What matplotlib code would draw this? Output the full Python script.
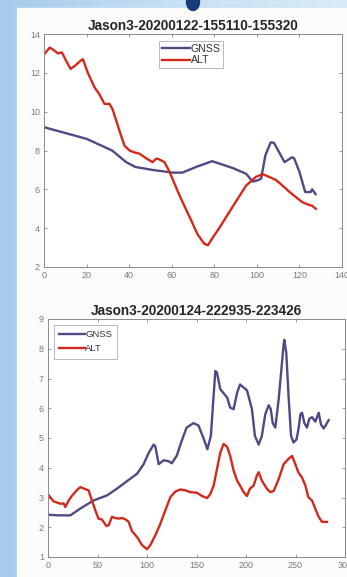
import numpy as np
import matplotlib
matplotlib.use("Agg")
import matplotlib.pyplot as plt
from matplotlib.patches import Rectangle, Ellipse

plt.rcParams['font.family'] = ['Liberation Sans', 'DejaVu Sans']

# ---- Pass 1: Jason3-20200122-155110-155320 ----
title1 = "Jason3-20200122-155110-155320"
gnss1_x = [0, 20, 32, 38.6, 43, 51, 60.5, 65, 71.4, 79, 88.6, 95, 98, 100, 102, 104,
           106.5, 108, 112, 113, 116.5, 117.5, 120, 122.7, 125.3, 126, 127.6]
gnss1_y = [9.2, 8.6, 8.0, 7.4, 7.15, 7.0, 6.86, 6.86, 7.15, 7.45, 7.1, 6.8, 6.4, 6.45,
           6.55, 7.75, 8.42, 8.4, 7.6, 7.4, 7.65, 7.6, 6.9, 5.86, 5.86, 6.0, 5.75]
alt1_x = [0, 2.7, 4.2, 6.6, 8.4, 10.5, 12.5, 14.4, 17.5, 18.3, 20.6, 23.75, 26, 28.4,
          30.8, 32.3, 35.5, 37.8, 40.2, 42.5, 44.8, 48, 51, 52.7, 54, 56.6, 59, 63.6,
          68.3, 72.2, 75.3, 77, 79.2, 82.3, 88.6, 95, 99.5, 102.7, 105.8, 109, 112,
          115, 118.3, 121.4, 123.75, 126, 127.7]
alt1_y = [12.95, 13.3, 13.2, 13.0, 13.05, 12.6, 12.2, 12.35, 12.65, 12.7, 12.0, 11.25,
          10.9, 10.4, 10.4, 10.1, 9.0, 8.25, 8.0, 7.9, 7.84, 7.6, 7.4, 7.58, 7.55, 7.4,
          6.9, 5.7, 4.6, 3.67, 3.2, 3.12, 3.5, 4.0, 5.1, 6.2, 6.64, 6.78, 6.64, 6.48,
          6.2, 5.9, 5.6, 5.34, 5.23, 5.15, 5.0]

# ---- Pass 2: Jason3-20200124-222935-223426 ----
title2 = "Jason3-20200124-222935-223426"
gnss2_x = [0, 10.8, 22.6, 32.7, 46, 59.6, 69.7, 79.8, 90, 96.6, 101.7, 106.7, 108.4,
           111.8, 116.8, 121.9, 125, 130, 135, 140, 147, 152, 157, 161, 164.5, 169,
           170.7, 174, 181, 184, 187.5, 191, 194, 201, 206, 209, 212.8, 216, 219.5,
           222.9, 225, 227, 229.6, 233, 236, 238, 238.7, 240.7, 243, 245.5, 248, 251,
           253, 255, 256.6, 259, 261.6, 264, 266.7, 270, 273.4, 275.8, 278.5, 280, 283.5]
gnss2_y = [2.42, 2.4, 2.4, 2.63, 2.9, 3.07, 3.3, 3.55, 3.8, 4.12, 4.5, 4.78, 4.72, 4.12,
           4.25, 4.22, 4.15, 4.4, 4.9, 5.35, 5.5, 5.42, 5.0, 4.62, 5.07, 7.25, 7.2, 6.64,
           6.36, 6.02, 5.97, 6.52, 6.8, 6.6, 5.97, 5.07, 4.78, 5.07, 5.8, 6.1, 5.97,
           5.5, 5.35, 6.3, 7.4, 8.14, 8.3, 7.86, 6.4, 5.07, 4.85, 4.95, 5.3, 5.8, 5.85,
           5.5, 5.35, 5.65, 5.7, 5.55, 5.85, 5.45, 5.32, 5.4, 5.6]
alt2_x = [0, 5.7, 12.5, 15.8, 17.5, 20.9, 24, 29, 32.7, 37.7, 41, 44.4, 47.8, 51, 54.5,
          59, 61.3, 64.6, 68, 71.4, 74.7, 78, 81.5, 84.8, 90, 95, 100, 103.4, 108.4,
          113.5, 118.5, 123.6, 128.6, 133.7, 138.7, 143.8, 150.5, 155.6, 160.6, 164,
          167.3, 170.7, 174, 177.4, 181, 184, 187.5, 191, 194, 197.6, 201, 204, 207.7,
          211, 212.8, 216, 221, 224.6, 228, 233, 238, 243, 246.5, 249.8, 253, 256.6,
          260, 263, 266.7, 270, 273.4, 276.8, 281.8]
alt2_y = [3.1, 2.87, 2.79, 2.8, 2.68, 2.9, 3.05, 3.24, 3.35, 3.28, 3.24, 2.9, 2.57, 2.29,
          2.26, 2.04, 2.07, 2.35, 2.31, 2.29, 2.31, 2.27, 2.18, 1.87, 1.67, 1.4, 1.26,
          1.4, 1.73, 2.12, 2.57, 3.01, 3.2, 3.27, 3.24, 3.18, 3.16, 3.05, 2.98, 3.12,
          3.4, 3.96, 4.5, 4.8, 4.7, 4.4, 3.9, 3.57, 3.4, 3.18, 3.05, 3.3, 3.4, 3.74,
          3.85, 3.57, 3.3, 3.18, 3.22, 3.62, 4.12, 4.3, 4.4, 4.12, 3.84, 3.67, 3.4,
          3.01, 2.9, 2.62, 2.35, 2.18, 2.18]

GNSS_COLOR = "#4d4a86"
ALT_COLOR = "#d3291d"
W, H = 347, 577

fig = plt.figure(figsize=(W / 100, H / 100), dpi=100)

# slide backdrop: soft blue gradient with a white content panel
bg = fig.add_axes([0, 0, 1, 1])
grad = np.linspace(0, 1, 256)[None, :]
bg.imshow(grad, extent=[0, W, 0, H], aspect="auto",
          cmap=matplotlib.colors.LinearSegmentedColormap.from_list(
              "sl", ["#a6cbeb", "#c6e0f4", "#d6ebf8"]))
bg.add_patch(Rectangle((17.5, 0), W - 17.5, H - 8, color="#fbfbf9", zorder=2))
bg.add_patch(Ellipse((193, H - 2), 13, 17, color="#173a78", zorder=3))
bg.set_xlim(0, W)
bg.set_ylim(0, H)
bg.axis("off")


def px_axes(left, top, right, bottom):
    return fig.add_axes([left / W, 1 - bottom / H, (right - left) / W, (bottom - top) / H])


def style(ax, title, xlim, ylim, xticks, yticks, legend_loc, bbox, leg_fs, leg_sp, leg_pad):
    ax.set_facecolor("#ffffff")
    ax.set_xlim(*xlim)
    ax.set_ylim(*ylim)
    ax.set_xticks(xticks)
    ax.set_yticks(yticks)
    ax.tick_params(direction="in", length=2.5, width=0.6, colors="#8a8a8a",
                   labelsize=6.5, labelcolor="#7a7a7a", top=True, right=True, pad=3)
    for s in ax.spines.values():
        s.set_color("#8a8a8a")
        s.set_linewidth(0.7)
    ax.set_title(title, fontsize=9.8, fontweight="bold", color="#262626", pad=3)
    leg = ax.legend(loc=legend_loc, bbox_to_anchor=bbox, fontsize=leg_fs, frameon=True,
                    fancybox=False, edgecolor="#9a9a9a", handlelength=2.7,
                    handletextpad=0.05, borderpad=leg_pad, labelspacing=leg_sp,
                    borderaxespad=0)
    leg.get_frame().set_linewidth(0.6)
    for t in leg.get_texts():
        t.set_color("#333333")


ax1 = px_axes(44, 34, 342, 267)
ax1.plot(gnss1_x, gnss1_y, color=GNSS_COLOR, lw=1.7, label="GNSS")
ax1.plot(alt1_x, alt1_y, color=ALT_COLOR, lw=1.7, label="ALT")
style(ax1, title1, (0, 140), (2, 14), np.arange(0, 141, 20), np.arange(2, 15, 2),
      "upper left", ((159 - 44) / 298, 1 - (41 - 34) / 233), 7.6, 0.15, 0.25)

ax2 = px_axes(48, 319, 345, 557)
ax2.plot(gnss2_x, gnss2_y, color=GNSS_COLOR, lw=1.7, label="GNSS")
ax2.plot(alt2_x, alt2_y, color=ALT_COLOR, lw=1.7, label="ALT")
style(ax2, title2, (0, 300), (1, 9), np.arange(0, 301, 50), np.arange(1, 10, 1),
      "upper left", ((54 - 48) / 297, 1 - (325 - 319) / 238), 6.8, 0.55, 0.55)

fig.savefig("out.png", dpi=100)
